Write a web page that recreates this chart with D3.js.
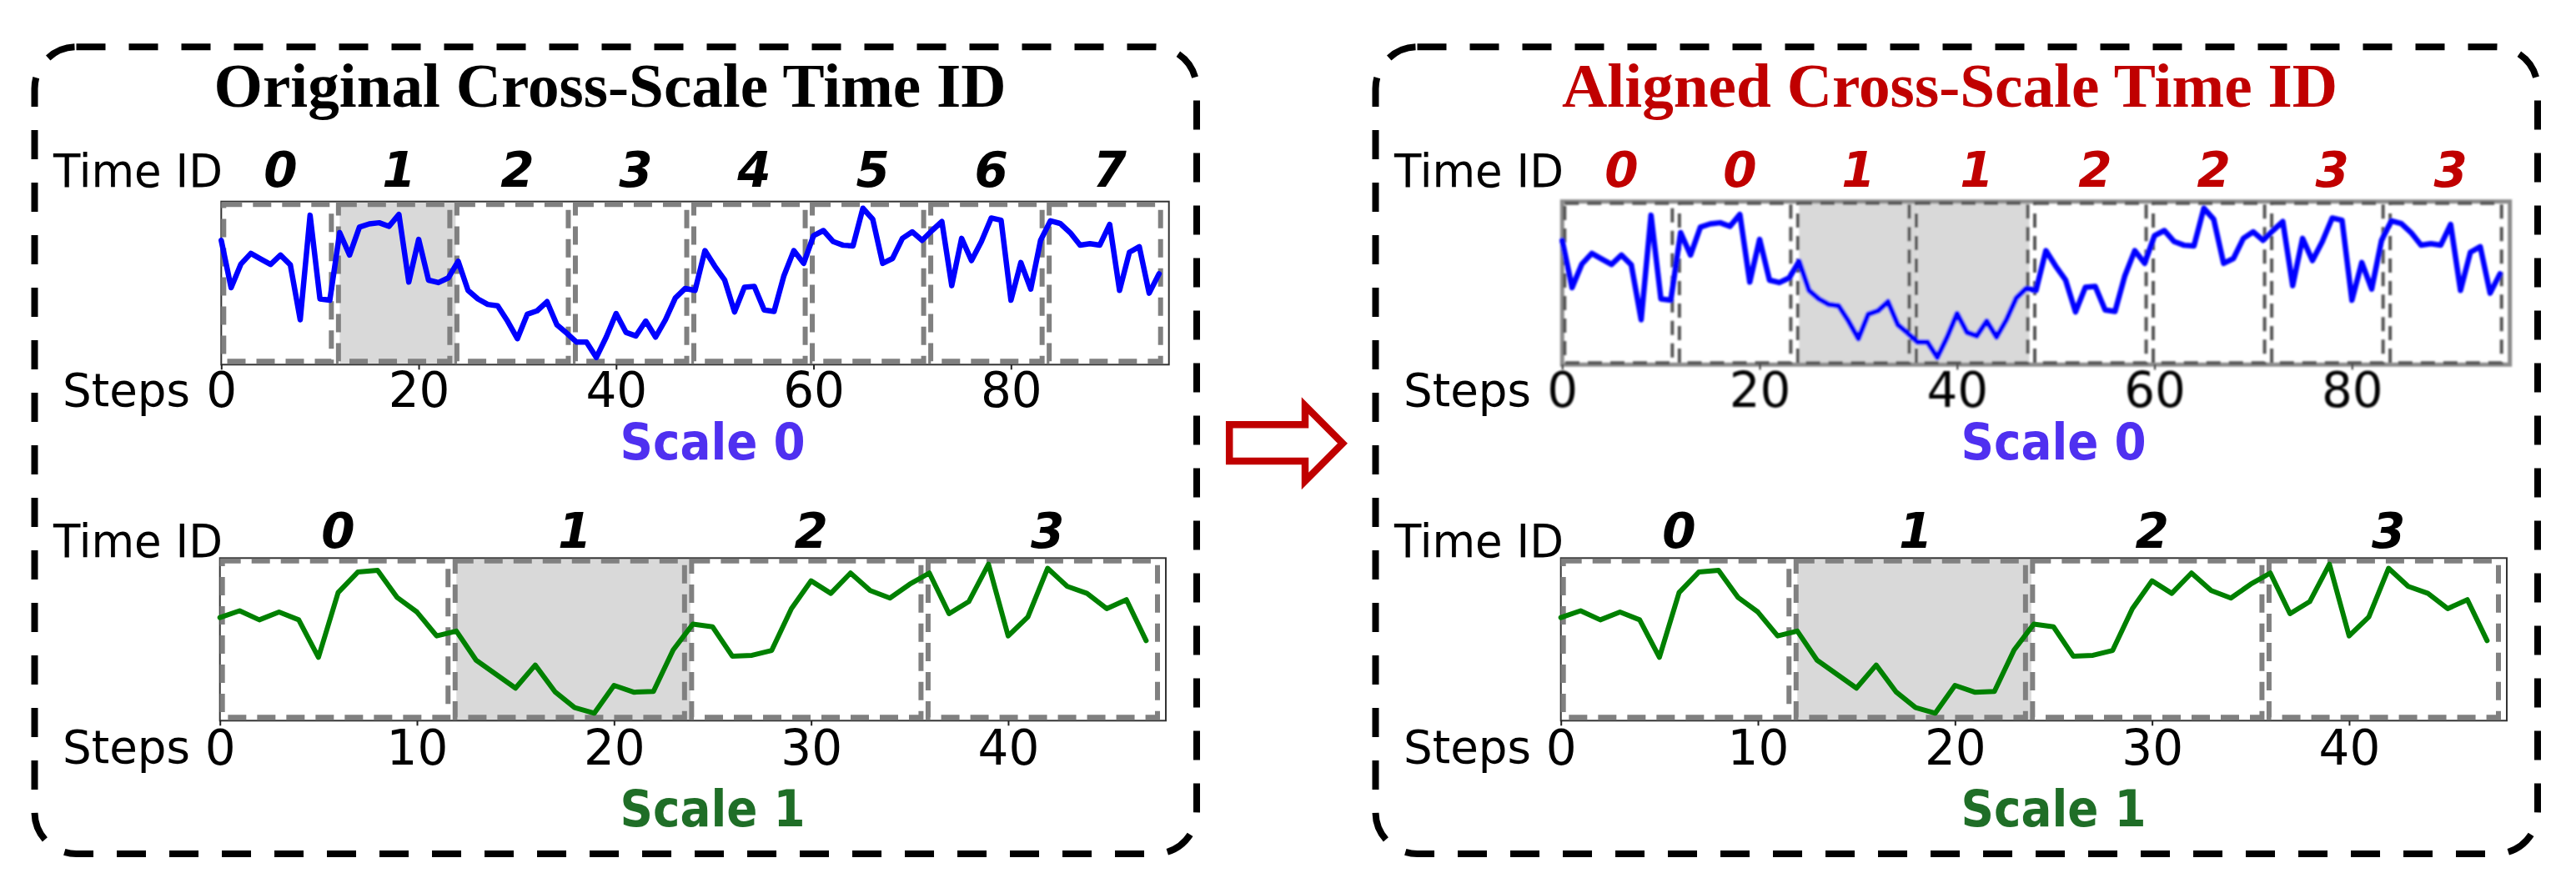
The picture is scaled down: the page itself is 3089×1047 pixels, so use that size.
<!DOCTYPE html>
<html><head><meta charset="utf-8">
<script src="https://cdn.jsdelivr.net/npm/d3@7"></script>
<style>body{margin:0;background:#fff}svg{display:block}</style>
</head><body>
<svg id="chart" width="3089" height="1047"></svg>
<script>
// ---------------- data ----------------
const scale0Values = [
 76.2, 47.2, 61.7, 68.2, 64.8, 61.4, 67.2, 61.2, 27.5, 91.6,
 40.3, 39.5, 80.9, 67.2, 84.3, 86.3, 87.0, 84.8, 92.1, 50.6,
 76.8, 51.8, 50.3, 53.2, 63.4, 45.5, 40.3, 36.9, 36.1, 26.7,
 15.9, 30.9, 33.0, 38.6, 24.4, 19.3, 13.8, 13.8, 4.4, 16.9,
 31.3, 19.8, 17.6, 26.7, 16.9, 27.5, 40.9, 46.7, 45.5, 69.9,
 60.3, 51.8, 32.3, 47.5, 48.0, 33.5, 32.6, 54.5, 69.9, 62.1,
 79.1, 82.2, 75.4, 73.2, 72.8, 95.9, 89.1, 62.1, 65.1, 77.4,
 81.4, 76.2, 82.2, 87.7, 48.4, 77.4, 63.8, 75.4, 89.9, 88.5,
 39.5, 62.6, 46.3, 76.2, 88.2, 86.5, 80.9, 73.3, 74.2, 73.3,
 86.0, 45.5, 68.9, 72.3, 43.8, 55.7];
const scale1Values = [
 63.4, 67.6, 62.0, 66.8, 62.0, 38.9, 78.8, 91.4, 92.5, 75.7,
 66.8, 52.1, 55.1, 37.2, 28.6, 20.0, 34.2, 17.8, 8.0, 4.6,
 21.7, 17.5, 18.0, 43.5, 59.4, 57.7, 39.7, 40.2, 43.2, 68.9,
 86.0, 78.3, 90.8, 80.0, 75.4, 83.9, 90.8, 65.8, 73.2, 96.2,
 52.1, 63.8, 93.7, 82.6, 78.3, 68.9, 74.4, 49.2];
const scale0Ticks = [0, 20, 40, 60, 80];
const scale1Ticks = [0, 10, 20, 30, 40];
const originalIds0 = ["0","1","2","3","4","5","6","7"];
const alignedIds0  = ["0","0","1","1","2","2","3","3"];
const ids1 = ["0","1","2","3"];
const segmentLength = 12;
const panelTitles = ["Original Cross-Scale Time ID", "Aligned Cross-Scale Time ID"];
const scaleLabels = ["Scale 0", "Scale 1"];
const highlightOrig0 = [1], highlightOrig1 = [1];
const highlightAlign0 = [2, 3], highlightAlign1 = [1];

// ---------------- layout / style ----------------
const svg = d3.select("#chart");
const SANS = "'DejaVu Sans', sans-serif";
const SERIF = "'Liberation Serif', 'Times New Roman', serif";
const defs = svg.append("defs");
defs.append("filter").attr("id", "soft")
  .attr("x", "-2%").attr("y", "-5%").attr("width", "104%").attr("height", "110%")
  .append("feGaussianBlur").attr("stdDeviation", 0.9);

const geoTop = {x0: 272.3, x1: 1408.7, yTop: 241.7, yBot: 437.3,
  idBase: 224.3, labelBase: 224.3, tickBase: 488, stepsBase: 486.7, scaleBase: 551, scaleColor: "#4f30f0"};
const geoBot = {x0: 270.7, x1: 1405, yTop: 669.3, yBot: 864.3,
  idBase: 656.7, labelBase: 668.3, tickBase: 916.7, stepsBase: 915, scaleBase: 990.6, scaleColor: "#1f6e27"};

const panels = [
  {dx: 0, title: panelTitles[0], titleColor: "#000000", titleX: 731.5, titleW: 950,
   plots: [
     {data: scale0Values, ids: originalIds0, idColor: "#000", hl: highlightOrig0, ticks: scale0Ticks, geo: geoTop, label: scaleLabels[0], color: "#0000ff", width: 6.5, blur: false},
     {data: scale1Values, ids: ids1, idColor: "#000", hl: highlightOrig1, ticks: scale1Ticks, geo: geoBot, label: scaleLabels[1], color: "#008000", width: 6, blur: false}
   ]},
  {dx: 1608, title: panelTitles[1], titleColor: "#c00000", titleX: 2338, titleW: 930,
   plots: [
     {data: scale0Values, ids: alignedIds0, idColor: "#c00000", hl: highlightAlign0, ticks: scale0Ticks, geo: geoTop, label: scaleLabels[0], color: "#0000ff", width: 6.5, blur: true},
     {data: scale1Values, ids: ids1, idColor: "#000", hl: highlightAlign1, ticks: scale1Ticks, geo: geoBot, label: scaleLabels[1], color: "#008000", width: 6, blur: false}
   ]}
];

function drawPlot(g, p, pdx) {
  const geo = p.geo;
  const n = p.data.length;
  const x = d3.scaleLinear().domain([0, n]).range([geo.x0 + pdx, geo.x1 + pdx]);
  const y = d3.scaleLinear().domain([0, 100]).range([geo.yBot, geo.yTop]);
  const segIdx = p.ids.map((d, i) => i);

  const body = g.append("g").attr("filter", p.blur ? "url(#soft)" : null);

  body.selectAll("rect.hl").data(p.hl).join("rect").attr("class", "hl")
    .attr("x", k => x(k * segmentLength) + (k === 0 ? 3 : 0))
    .attr("y", geo.yTop)
    .attr("width", k => x((k + 1) * segmentLength) - x(k * segmentLength) - (p.hl.includes(k + 1) ? 0 : (p.blur ? 8 : 3)))
    .attr("height", geo.yBot - geo.yTop)
    .attr("fill", "#d9d9d9");

  body.append("rect")
    .attr("x", x(0)).attr("y", geo.yTop)
    .attr("width", x(n) - x(0)).attr("height", geo.yBot - geo.yTop)
    .attr("fill", "none")
    .attr("stroke", p.blur ? "#8c8c8c" : "#333")
    .attr("stroke-width", p.blur ? 5 : 2);

  body.selectAll("rect.seg").data(segIdx).join("rect").attr("class", "seg")
    .attr("x", k => x(k * segmentLength) + (k === 0 ? 3 : -1.5))
    .attr("y", geo.yTop + (p.blur ? 2 : 3.5))
    .attr("width", k => x((k + 1) * segmentLength) - 10 - (x(k * segmentLength) + (k === 0 ? 3 : -1.5)))
    .attr("height", geo.yBot - geo.yTop - (p.blur ? 4 : 7.5))
    .attr("fill", "none")
    .attr("stroke", p.blur ? "#555" : "#808080")
    .attr("stroke-width", p.blur ? 4 : 6)
    .attr("stroke-dasharray", p.blur ? "17 10" : "22 13");

  body.append("path").datum(p.data)
    .attr("d", d3.line().x((d, i) => x(i)).y(d => y(d)))
    .attr("fill", "none").attr("stroke", p.color)
    .attr("stroke-width", p.width).attr("stroke-linejoin", "round").attr("stroke-linecap", "round");

  const ax = body.append("g").attr("transform", `translate(0,${geo.yBot})`)
    .call(d3.axisBottom(x).tickValues(p.ticks).tickSize(6).tickFormat(d3.format("d")));
  ax.select(".domain").remove();
  ax.selectAll(".tick line").attr("stroke", "#222").attr("stroke-width", 2);
  ax.selectAll(".tick text")
    .attr("y", geo.tickBase - geo.yBot).attr("dy", 0)
    .attr("font-family", SANS).attr("font-size", 58).attr("fill", "#000");

  g.selectAll("text.id").data(p.ids).join("text").attr("class", "id")
    .attr("x", (d, i) => x(i * segmentLength + segmentLength / 2))
    .attr("y", geo.idBase)
    .attr("text-anchor", "middle")
    .attr("font-family", SANS).attr("font-weight", "bold").attr("font-style", "italic")
    .attr("font-size", 58).attr("fill", p.idColor)
    .text(d => d);

  g.append("text").attr("x", 71 + pdx).attr("y", geo.labelBase)
    .attr("font-family", SANS).attr("font-size", 56)
    .attr("textLength", 203).attr("lengthAdjust", "spacingAndGlyphs")
    .text("Time ID");
  g.append("text").attr("x", 82 + pdx).attr("y", geo.stepsBase)
    .attr("font-family", SANS).attr("font-size", 56)
    .attr("textLength", 153).attr("lengthAdjust", "spacingAndGlyphs")
    .text("Steps");

  g.append("text").attr("x", 861.5 + pdx).attr("y", geo.scaleBase)
    .attr("text-anchor", "middle")
    .attr("font-family", SANS).attr("font-weight", "bold").attr("font-size", 61)
    .attr("textLength", 222).attr("lengthAdjust", "spacingAndGlyphs")
    .attr("fill", geo.scaleColor)
    .text(p.label);
}

panels.forEach(panel => {
  const g = svg.append("g");
  g.append("rect")
    .attr("x", 41.5 + panel.dx).attr("y", 56.3)
    .attr("width", 1393.5).attr("height", 967.7)
    .attr("rx", 50).attr("ry", 50)
    .attr("fill", "none").attr("stroke", "#000")
    .attr("stroke-width", 8).attr("stroke-dasharray", "35 28");
  g.append("text")
    .attr("x", panel.titleX).attr("y", 128.3)
    .attr("text-anchor", "middle")
    .attr("font-family", SERIF).attr("font-weight", "bold").attr("font-size", 74)
    .attr("textLength", panel.titleW).attr("lengthAdjust", "spacingAndGlyphs")
    .attr("fill", panel.titleColor)
    .text(panel.title);
  panel.plots.forEach(p => drawPlot(g.append("g"), p, panel.dx - 7));
});

const ap = d3.path();
ap.moveTo(1474.2, 509.2);
ap.lineTo(1565, 509.2);
ap.lineTo(1565, 486.5);
ap.lineTo(1610, 531.7);
ap.lineTo(1565, 576.9);
ap.lineTo(1565, 553.1);
ap.lineTo(1474.2, 553.1);
ap.closePath();
svg.append("path").attr("d", ap.toString())
  .attr("fill", "#fff").attr("stroke", "#c00000")
  .attr("stroke-width", 8.5).attr("stroke-linejoin", "miter");
</script>
</body></html>
